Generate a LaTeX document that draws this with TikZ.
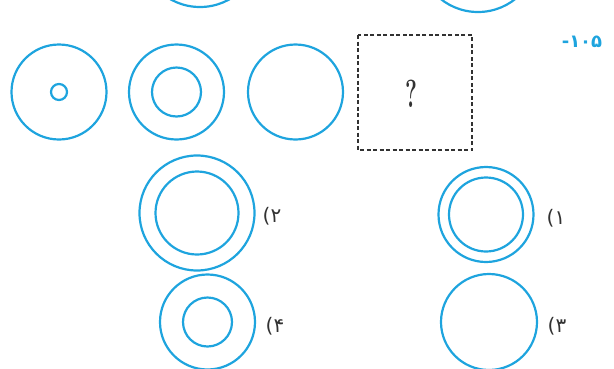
\documentclass[tikz,border=0pt]{standalone}
\usepackage{fontspec}
\usepackage{graphicx}
\newfontfamily\digitfont{DejaVu Sans}
\definecolor{ringblue}{RGB}{30,164,222}
\definecolor{labelgray}{RGB}{50,50,50}
\tikzset{
  ring/.style={draw=ringblue, line width=2.2pt},
  optlabel/.style={text=labelgray, font=\digitfont\fontsize{20}{20}\selectfont, inner sep=0pt}
}
\begin{document}
\begin{tikzpicture}[x=1pt,y=-1pt]
            \useasboundingbox (0,0) rectangle (614,368);
            \def\r{47.5}
            \coordinate (p1) at (200,-53);
            \coordinate (p2) at (478,-48);
            \coordinate (s1) at (59,92);
            \coordinate (s2) at (176.5,92);
            \coordinate (s3) at (295.5,92);
            \coordinate (o1) at (486,214.5);
            \coordinate (o2) at (197,213);
            \coordinate (o3) at (489,322);
            \coordinate (o4) at (207.5,322);
            %Previous question
            \draw[ring] (p1) circle(60);
            \draw[ring] (p2) circle(60);
            %Number
            \node[text=ringblue, font=\digitfont\bfseries\fontsize{18}{18}\selectfont, inner sep=0pt] (num) at (582,42) {-۱۰۵};
            %Sequence
            \draw[ring] (s1) circle(\r);
            \draw[ring] (s1) circle(8);
            \draw[ring] (s2) circle(\r);
            \draw[ring] (s2) circle(24.5);
            \draw[ring] (s3) circle(\r);
            \draw[dashed, dash pattern=on 4pt off 2.5pt, draw=labelgray, line width=1.1pt] (358,35) rectangle (472,150);
            \node[text=labelgray, inner sep=0pt] (qmark) at (411,94) {\scalebox{0.8}[1.4]{\fontsize{28}{28}\selectfont\bfseries ?}};
            %Options
            \draw[ring] (o1) circle(\r);
            \draw[ring] (o1) circle(37);
            \draw[ring] (o2) circle(57.5);
            \draw[ring] (o2) circle(41.5);
            \draw[ring] (o3) circle(48);
            \draw[ring] (o4) circle(\r);
            \draw[ring] (o4) circle(24.5);
            \node[optlabel] (l1) at (556,218) {(۱};
            \node[optlabel] (l2) at (272,216) {(۲};
            \node[optlabel] (l3) at (557,326) {(۳};
            \node[optlabel] (l4) at (275,326) {(۴};
        \end{tikzpicture}
\end{document}
